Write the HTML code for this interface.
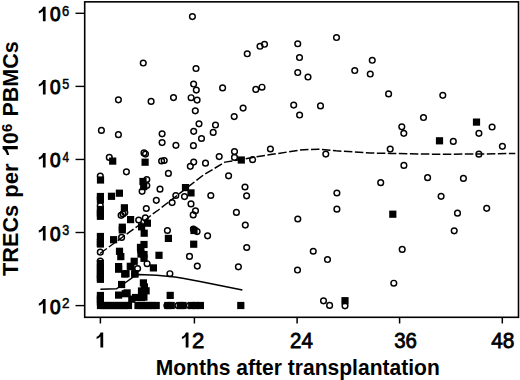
<!DOCTYPE html>
<html><head><meta charset="utf-8"><style>
html,body{margin:0;padding:0;background:#fff;width:520px;height:380px;overflow:hidden}
svg{display:block}
text{font-family:"Liberation Sans",sans-serif;fill:#000}
.tk{font-size:21.5px;stroke:#000;stroke-width:0.8px}
.g1{fill:#000}
.tky{font-size:20.3px;stroke:#000;stroke-width:1.0px}
.tkb{font-size:21.5px;font-weight:bold}
.supb{font-size:13.5px;font-weight:bold}
.sup{font-size:14.5px;stroke:#000;stroke-width:0.5px}
.ttl2{font-size:14.5px;font-weight:bold}
.ttl{font-size:21.5px;font-weight:bold}
circle{fill:none;stroke:#000;stroke-width:1.45}
.sq{fill:#000}
</style></head><body>
<svg width="520" height="380" viewBox="0 0 520 380">
<g>
<rect x="84.7" y="1.85" width="433.8" height="315.45" fill="none" stroke="#000" stroke-width="1.6"/>
<line x1="75.5" y1="13.3" x2="84.5" y2="13.3" stroke="#000" stroke-width="1.4"/>
<line x1="75.5" y1="86.4" x2="84.5" y2="86.4" stroke="#000" stroke-width="1.4"/>
<line x1="75.5" y1="159.45" x2="84.5" y2="159.45" stroke="#000" stroke-width="1.4"/>
<line x1="75.5" y1="232.5" x2="84.5" y2="232.5" stroke="#000" stroke-width="1.4"/>
<line x1="75.5" y1="305.6" x2="84.5" y2="305.6" stroke="#000" stroke-width="1.4"/>
<line x1="100.4" y1="317.5" x2="100.4" y2="323.5" stroke="#000" stroke-width="1.5"/>
<line x1="194.4" y1="317.5" x2="194.4" y2="323.5" stroke="#000" stroke-width="1.5"/>
<line x1="297.1" y1="317.5" x2="297.1" y2="323.5" stroke="#000" stroke-width="1.5"/>
<line x1="399.6" y1="317.5" x2="399.6" y2="323.5" stroke="#000" stroke-width="1.5"/>
<line x1="502.3" y1="317.5" x2="502.3" y2="323.5" stroke="#000" stroke-width="1.5"/>
<polyline points="100.0,253.5 130.0,231.6 140.0,224.5 152.0,214.5 158.4,210.0 180.0,193.2 203.4,175.0 225.0,162.1 233.0,160.8 260.0,156.2 280.0,153.2 300.0,150.0 318.0,149.2 336.0,150.8 370.0,153.0 390.0,153.4 440.0,154.3 478.0,154.0 515.3,153.5" fill="none" stroke="#000" stroke-width="1.5" stroke-dasharray="8.5,2.5"/>
<polyline points="100.4,289.3 116.5,288.8 124.2,283.5 132.7,277.3 138.8,274.5 156.6,275.3 175.0,276.9 182.7,278.3 200.0,281.5 215.0,284.5 242.4,290.1" fill="none" stroke="#000" stroke-width="1.5"/>
<circle cx="192.4" cy="16.6" r="2.85"/>
<circle cx="143.25" cy="63" r="2.85"/>
<circle cx="196" cy="68.5" r="2.85"/>
<circle cx="193.6" cy="84" r="2.85"/>
<circle cx="196.3" cy="90.1" r="2.85"/>
<circle cx="336.5" cy="37.5" r="2.85"/>
<circle cx="264.5" cy="44.25" r="2.85"/>
<circle cx="260" cy="46.25" r="2.85"/>
<circle cx="297.75" cy="43.75" r="2.85"/>
<circle cx="247.25" cy="53.75" r="2.85"/>
<circle cx="299.5" cy="57.5" r="2.85"/>
<circle cx="297.75" cy="72.5" r="2.85"/>
<circle cx="308" cy="77" r="2.85"/>
<circle cx="222.6" cy="87.9" r="2.85"/>
<circle cx="255.8" cy="89.4" r="2.85"/>
<circle cx="262" cy="87.2" r="2.85"/>
<circle cx="372.25" cy="60.25" r="2.85"/>
<circle cx="354.75" cy="70.5" r="2.85"/>
<circle cx="370.25" cy="74" r="2.85"/>
<circle cx="388.6" cy="93.9" r="2.85"/>
<circle cx="442.8" cy="95.3" r="2.85"/>
<circle cx="118.4" cy="99.8" r="2.85"/>
<circle cx="151.1" cy="101.4" r="2.85"/>
<circle cx="173.5" cy="97.6" r="2.85"/>
<circle cx="101.4" cy="130.4" r="2.85"/>
<circle cx="118.4" cy="134.7" r="2.85"/>
<circle cx="162.1" cy="133.8" r="2.85"/>
<circle cx="162.1" cy="142.6" r="2.85"/>
<circle cx="175.9" cy="145.3" r="2.85"/>
<circle cx="191.1" cy="97.7" r="2.85"/>
<circle cx="197.1" cy="100.1" r="2.85"/>
<circle cx="195.3" cy="110.8" r="2.85"/>
<circle cx="243.1" cy="108.1" r="2.85"/>
<circle cx="234.2" cy="116.6" r="2.85"/>
<circle cx="199" cy="123.8" r="2.85"/>
<circle cx="215.5" cy="125" r="2.85"/>
<circle cx="193.7" cy="131.3" r="2.85"/>
<circle cx="213.2" cy="132.4" r="2.85"/>
<circle cx="201.5" cy="138.5" r="2.85"/>
<circle cx="193.4" cy="145.7" r="2.85"/>
<circle cx="270.4" cy="149.0" r="2.85"/>
<circle cx="293.7" cy="105.1" r="2.85"/>
<circle cx="299.6" cy="115" r="2.85"/>
<circle cx="320.5" cy="105.9" r="2.85"/>
<circle cx="325.8" cy="154.1" r="2.85"/>
<circle cx="423.5" cy="117.5" r="2.85"/>
<circle cx="401.8" cy="126.8" r="2.85"/>
<circle cx="403.8" cy="133.3" r="2.85"/>
<circle cx="453.3" cy="141.4" r="2.85"/>
<circle cx="390.2" cy="149.1" r="2.85"/>
<circle cx="492.1" cy="127" r="2.85"/>
<circle cx="478.9" cy="133.3" r="2.85"/>
<circle cx="502.4" cy="146.3" r="2.85"/>
<circle cx="478.9" cy="154.2" r="2.85"/>
<circle cx="109.3" cy="157.4" r="2.85"/>
<circle cx="126.4" cy="171.8" r="2.85"/>
<circle cx="100.3" cy="176" r="2.85"/>
<circle cx="144.0" cy="152.9" r="2.85"/>
<circle cx="145.5" cy="154.1" r="2.85"/>
<circle cx="161.6" cy="161" r="2.85"/>
<circle cx="164.2" cy="160.5" r="2.85"/>
<circle cx="168.4" cy="173.4" r="2.85"/>
<circle cx="146.8" cy="179.5" r="2.85"/>
<circle cx="146.8" cy="185.5" r="2.85"/>
<circle cx="142.1" cy="191.3" r="2.85"/>
<circle cx="160" cy="189.2" r="2.85"/>
<circle cx="156.3" cy="200.3" r="2.85"/>
<circle cx="146.3" cy="208.5" r="2.85"/>
<circle cx="172.1" cy="202.6" r="2.85"/>
<circle cx="175.8" cy="195.5" r="2.85"/>
<circle cx="100.3" cy="205.5" r="2.85"/>
<circle cx="121.1" cy="215.3" r="2.85"/>
<circle cx="123.0" cy="213.9" r="2.85"/>
<circle cx="124.8" cy="212.6" r="2.85"/>
<circle cx="138.7" cy="220" r="2.85"/>
<circle cx="145.3" cy="217.9" r="2.85"/>
<circle cx="121.6" cy="237.4" r="2.85"/>
<circle cx="100.3" cy="252.2" r="2.85"/>
<circle cx="100.3" cy="261" r="2.85"/>
<circle cx="167.4" cy="230.5" r="2.85"/>
<circle cx="147.1" cy="263.7" r="2.85"/>
<circle cx="137.6" cy="268.5" r="2.85"/>
<circle cx="169.9" cy="273.7" r="2.85"/>
<circle cx="166.9" cy="305.6" r="2.85"/>
<circle cx="177.9" cy="305.6" r="2.85"/>
<circle cx="189.4" cy="305.6" r="2.85"/>
<circle cx="193.7" cy="162.1" r="2.85"/>
<circle cx="190.3" cy="166.3" r="2.85"/>
<circle cx="205.5" cy="163.2" r="2.85"/>
<circle cx="219.2" cy="156.6" r="2.85"/>
<circle cx="184.5" cy="196.6" r="2.85"/>
<circle cx="210.8" cy="195.5" r="2.85"/>
<circle cx="191" cy="203.9" r="2.85"/>
<circle cx="195.5" cy="210.8" r="2.85"/>
<circle cx="193.2" cy="214.9" r="2.85"/>
<circle cx="193.4" cy="229" r="2.85"/>
<circle cx="197.1" cy="231.6" r="2.85"/>
<circle cx="207.6" cy="235.8" r="2.85"/>
<circle cx="189.5" cy="256.4" r="2.85"/>
<circle cx="197.3" cy="266.1" r="2.85"/>
<circle cx="234.5" cy="151.6" r="2.85"/>
<circle cx="234.5" cy="157.4" r="2.85"/>
<circle cx="252.6" cy="159.7" r="2.85"/>
<circle cx="228.6" cy="175.8" r="2.85"/>
<circle cx="245" cy="187" r="2.85"/>
<circle cx="246.6" cy="195.8" r="2.85"/>
<circle cx="236.4" cy="212.4" r="2.85"/>
<circle cx="245.3" cy="225.1" r="2.85"/>
<circle cx="246.7" cy="247.5" r="2.85"/>
<circle cx="238.4" cy="266.8" r="2.85"/>
<circle cx="336.9" cy="193" r="2.85"/>
<circle cx="336.9" cy="209.2" r="2.85"/>
<circle cx="297.8" cy="219" r="2.85"/>
<circle cx="313.25" cy="251.25" r="2.85"/>
<circle cx="327.5" cy="259.5" r="2.85"/>
<circle cx="297.5" cy="270" r="2.85"/>
<circle cx="323.5" cy="300.8" r="2.85"/>
<circle cx="329.6" cy="305.4" r="2.85"/>
<circle cx="345.0" cy="305.8" r="2.85"/>
<circle cx="403.9" cy="165.4" r="2.85"/>
<circle cx="380.7" cy="182.7" r="2.85"/>
<circle cx="427.6" cy="177.7" r="2.85"/>
<circle cx="463.4" cy="178.4" r="2.85"/>
<circle cx="441.1" cy="196.3" r="2.85"/>
<circle cx="457.5" cy="213.2" r="2.85"/>
<circle cx="454.2" cy="230.8" r="2.85"/>
<circle cx="486.7" cy="208.3" r="2.85"/>
<circle cx="402.2" cy="249.4" r="2.85"/>
<circle cx="393.8" cy="283.2" r="2.85"/>
<rect class="sq" x="435.9" y="137.2" width="7.2" height="7.2"/>
<rect class="sq" x="472.9" y="118.5" width="7.2" height="7.2"/>
<rect class="sq" x="109.1" y="157.5" width="7.2" height="7.2"/>
<rect class="sq" x="96.9" y="176.4" width="7.2" height="7.2"/>
<rect class="sq" x="141.5" y="158.6" width="7.2" height="7.2"/>
<rect class="sq" x="139.4" y="177.9" width="7.2" height="7.2"/>
<rect class="sq" x="140.1" y="183.0" width="7.2" height="7.2"/>
<rect class="sq" x="96.8" y="192.9" width="7.2" height="7.2"/>
<rect class="sq" x="96.8" y="196.4" width="7.2" height="7.2"/>
<rect class="sq" x="96.8" y="205.9" width="7.2" height="7.2"/>
<rect class="sq" x="96.8" y="209.4" width="7.2" height="7.2"/>
<rect class="sq" x="96.8" y="212.7" width="7.2" height="7.2"/>
<rect class="sq" x="96.8" y="232.9" width="7.2" height="7.2"/>
<rect class="sq" x="96.8" y="238.9" width="7.2" height="7.2"/>
<rect class="sq" x="96.8" y="240.4" width="7.2" height="7.2"/>
<rect class="sq" x="96.8" y="259.9" width="7.2" height="7.2"/>
<rect class="sq" x="96.8" y="263.4" width="7.2" height="7.2"/>
<rect class="sq" x="96.8" y="266.9" width="7.2" height="7.2"/>
<rect class="sq" x="96.8" y="270.4" width="7.2" height="7.2"/>
<rect class="sq" x="96.8" y="273.9" width="7.2" height="7.2"/>
<rect class="sq" x="96.8" y="275.7" width="7.2" height="7.2"/>
<rect class="sq" x="96.8" y="291.9" width="7.2" height="7.2"/>
<rect class="sq" x="96.8" y="295.4" width="7.2" height="7.2"/>
<rect class="sq" x="96.8" y="298.4" width="7.2" height="7.2"/>
<rect class="sq" x="107.9" y="192.7" width="7.2" height="7.2"/>
<rect class="sq" x="115.8" y="189.6" width="7.2" height="7.2"/>
<rect class="sq" x="120.8" y="204.2" width="7.2" height="7.2"/>
<rect class="sq" x="127.0" y="216.0" width="7.2" height="7.2"/>
<rect class="sq" x="118.7" y="223.6" width="7.2" height="7.2"/>
<rect class="sq" x="118.7" y="226.3" width="7.2" height="7.2"/>
<rect class="sq" x="110.0" y="236.1" width="7.2" height="7.2"/>
<rect class="sq" x="115.9" y="247.7" width="7.2" height="7.2"/>
<rect class="sq" x="117.2" y="253.0" width="7.2" height="7.2"/>
<rect class="sq" x="130.6" y="257.7" width="7.2" height="7.2"/>
<rect class="sq" x="127.4" y="263.0" width="7.2" height="7.2"/>
<rect class="sq" x="131.1" y="270.4" width="7.2" height="7.2"/>
<rect class="sq" x="115.0" y="263.0" width="7.2" height="7.2"/>
<rect class="sq" x="115.0" y="265.6" width="7.2" height="7.2"/>
<rect class="sq" x="121.1" y="270.4" width="7.2" height="7.2"/>
<rect class="sq" x="118.0" y="280.9" width="7.2" height="7.2"/>
<rect class="sq" x="115.0" y="291.5" width="7.2" height="7.2"/>
<rect class="sq" x="121.7" y="290.1" width="7.2" height="7.2"/>
<rect class="sq" x="123.5" y="289.3" width="7.2" height="7.2"/>
<rect class="sq" x="128.2" y="295.6" width="7.2" height="7.2"/>
<rect class="sq" x="138.0" y="223.2" width="7.2" height="7.2"/>
<rect class="sq" x="143.8" y="219.6" width="7.2" height="7.2"/>
<rect class="sq" x="140.6" y="229.6" width="7.2" height="7.2"/>
<rect class="sq" x="164.8" y="234.8" width="7.2" height="7.2"/>
<rect class="sq" x="140.4" y="240.9" width="7.2" height="7.2"/>
<rect class="sq" x="137.2" y="245.9" width="7.2" height="7.2"/>
<rect class="sq" x="137.4" y="250.4" width="7.2" height="7.2"/>
<rect class="sq" x="140.4" y="250.9" width="7.2" height="7.2"/>
<rect class="sq" x="140.4" y="254.7" width="7.2" height="7.2"/>
<rect class="sq" x="136.9" y="243.8" width="7.2" height="7.2"/>
<rect class="sq" x="155.4" y="251.7" width="7.2" height="7.2"/>
<rect class="sq" x="149.8" y="264.3" width="7.2" height="7.2"/>
<rect class="sq" x="126.7" y="262.7" width="7.2" height="7.2"/>
<rect class="sq" x="131.4" y="270.1" width="7.2" height="7.2"/>
<rect class="sq" x="122.4" y="270.1" width="7.2" height="7.2"/>
<rect class="sq" x="139.8" y="279.3" width="7.2" height="7.2"/>
<rect class="sq" x="142.5" y="287.2" width="7.2" height="7.2"/>
<rect class="sq" x="140.3" y="293.5" width="7.2" height="7.2"/>
<rect class="sq" x="140.8" y="283.4" width="7.2" height="7.2"/>
<rect class="sq" x="137.9" y="293.9" width="7.2" height="7.2"/>
<rect class="sq" x="137.9" y="287.4" width="7.2" height="7.2"/>
<rect class="sq" x="131.9" y="293.9" width="7.2" height="7.2"/>
<rect class="sq" x="166.6" y="291.8" width="7.2" height="7.2"/>
<rect class="sq" x="181.9" y="184.0" width="7.2" height="7.2"/>
<rect class="sq" x="187.4" y="189.3" width="7.2" height="7.2"/>
<rect class="sq" x="190.4" y="226.9" width="7.2" height="7.2"/>
<rect class="sq" x="190.1" y="240.6" width="7.2" height="7.2"/>
<rect class="sq" x="237.7" y="156.4" width="7.2" height="7.2"/>
<rect class="sq" x="237.2" y="301.9" width="7.2" height="7.2"/>
<rect class="sq" x="341.4" y="297.1" width="7.2" height="7.2"/>
<rect class="sq" x="389.2" y="210.6" width="7.2" height="7.2"/>
<rect class="sq" x="96.9" y="301.9" width="7.2" height="7.2"/>
<rect class="sq" x="100.4" y="301.9" width="7.2" height="7.2"/>
<rect class="sq" x="103.9" y="301.9" width="7.2" height="7.2"/>
<rect class="sq" x="107.4" y="301.9" width="7.2" height="7.2"/>
<rect class="sq" x="110.9" y="301.9" width="7.2" height="7.2"/>
<rect class="sq" x="114.4" y="301.9" width="7.2" height="7.2"/>
<rect class="sq" x="117.9" y="301.9" width="7.2" height="7.2"/>
<rect class="sq" x="121.4" y="301.9" width="7.2" height="7.2"/>
<rect class="sq" x="124.9" y="301.9" width="7.2" height="7.2"/>
<rect class="sq" x="134.4" y="301.9" width="7.2" height="7.2"/>
<rect class="sq" x="137.9" y="301.9" width="7.2" height="7.2"/>
<rect class="sq" x="141.4" y="301.9" width="7.2" height="7.2"/>
<rect class="sq" x="144.9" y="301.9" width="7.2" height="7.2"/>
<rect class="sq" x="148.4" y="301.9" width="7.2" height="7.2"/>
<rect class="sq" x="152.6" y="301.9" width="7.2" height="7.2"/>
<rect class="sq" x="164.2" y="301.9" width="7.2" height="7.2"/>
<rect class="sq" x="167.6" y="301.9" width="7.2" height="7.2"/>
<rect class="sq" x="176.6" y="301.9" width="7.2" height="7.2"/>
<rect class="sq" x="179.4" y="301.9" width="7.2" height="7.2"/>
<rect class="sq" x="188.1" y="301.9" width="7.2" height="7.2"/>
<rect class="sq" x="191.9" y="301.9" width="7.2" height="7.2"/>
<rect class="sq" x="196.8" y="301.9" width="7.2" height="7.2"/>
<path class="g1" d="M45.60,6.80 L45.60,21.30 L42.90,21.30 L42.90,11.00 C41.90,12.20 40.40,13.10 38.80,13.40 L38.80,11.10 C40.70,10.60 42.30,9.00 43.10,6.80 Z"/>
<text class="tky" transform="translate(50.07,21.30) scale(0.940,1)">0</text>
<text class="sup" transform="translate(61.95,16.00) scale(0.897,1)">6</text>
<path class="g1" d="M45.60,79.90 L45.60,94.40 L42.90,94.40 L42.90,84.10 C41.90,85.30 40.40,86.20 38.80,86.50 L38.80,84.20 C40.70,83.70 42.30,82.10 43.10,79.90 Z"/>
<text class="tky" transform="translate(50.07,94.40) scale(0.940,1)">0</text>
<text class="sup" transform="translate(62.18,89.10) scale(0.867,1)">5</text>
<path class="g1" d="M45.60,152.95 L45.60,167.45 L42.90,167.45 L42.90,157.15 C41.90,158.35 40.40,159.25 38.80,159.55 L38.80,157.25 C40.70,156.75 42.30,155.15 43.10,152.95 Z"/>
<text class="tky" transform="translate(50.07,167.45) scale(0.940,1)">0</text>
<text class="sup" transform="translate(62.40,162.15) scale(0.813,1)">4</text>
<path class="g1" d="M45.60,226.00 L45.60,240.50 L42.90,240.50 L42.90,230.20 C41.90,231.40 40.40,232.30 38.80,232.60 L38.80,230.30 C40.70,229.80 42.30,228.20 43.10,226.00 Z"/>
<text class="tky" transform="translate(50.07,240.50) scale(0.940,1)">0</text>
<text class="sup" transform="translate(62.18,235.20) scale(0.867,1)">3</text>
<path class="g1" d="M45.60,299.10 L45.60,313.60 L42.90,313.60 L42.90,303.30 C41.90,304.50 40.40,305.40 38.80,305.70 L38.80,303.40 C40.70,302.90 42.30,301.30 43.10,299.10 Z"/>
<text class="tky" transform="translate(50.07,313.60) scale(0.940,1)">0</text>
<text class="sup" transform="translate(61.94,308.30) scale(0.929,1)">2</text>
<path class="g1" d="M103.20,332.40 L103.20,347.60 L100.40,347.60 L100.40,336.60 C99.40,337.80 98.20,338.70 96.60,339.00 L96.60,336.70 C98.50,336.20 99.80,334.60 100.60,332.40 Z"/>
<path class="g1" d="M188.50,332.40 L188.50,347.60 L185.70,347.60 L185.70,336.60 C184.70,337.80 183.50,338.70 181.90,339.00 L181.90,336.70 C183.80,336.20 185.10,334.60 185.90,332.40 Z"/>
<text class="tk" transform="translate(191.93,347.60) scale(1.029,1)">2</text>
<text class="tk" transform="translate(290.09,347.60) scale(0.952,1)">24</text>
<text class="tk" transform="translate(394.13,347.60) scale(0.949,1)">36</text>
<text class="tk" transform="translate(491.20,347.60) scale(0.972,1)">48</text>
<text class="ttl" transform="translate(155.73,374.50) scale(0.979,1)">Months after transplantation</text>
<g transform="translate(17.8,275.7) rotate(-90)"><text class="ttl" transform="translate(-0.25,0.00) scale(1.008,1)">TRECs</text><text class="ttl" transform="translate(77.96,0.00) scale(1.025,1)">per</text><path class="g1" d="M129.80,-15.20 L129.80,0.00 L126.40,0.00 L126.40,-11.00 C125.40,-9.80 122.20,-8.90 120.60,-8.60 L120.60,-10.90 C122.50,-11.40 125.80,-13.00 126.60,-15.20 Z"/><text class="ttl" transform="translate(131.68,0.00) scale(0.966,1)">0</text><text class="ttl2" transform="translate(143.79,-6.00) scale(1.029,1)">6</text><text class="ttl" transform="translate(159.10,0.00) scale(1.002,1)">PBMCs</text></g>
</g>
</svg>
</body></html>
